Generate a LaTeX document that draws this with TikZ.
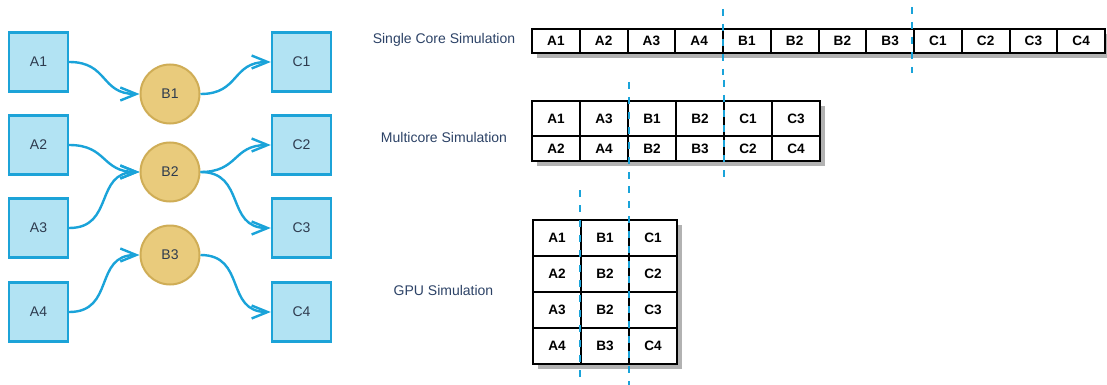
\documentclass[tikz,border=0pt]{standalone}
\usepackage{fontspec}
\setmainfont{Liberation Sans}
\usetikzlibrary{arrows.meta,shadows}

\definecolor{boxfill}{HTML}{B2E3F3}
\definecolor{boxline}{HTML}{1CA3D8}
\definecolor{hubfill}{HTML}{E9CB7C}
\definecolor{hubline}{HTML}{CFAD56}
\definecolor{inktext}{HTML}{2E3B4E}
\definecolor{navy}{HTML}{2C4266}
\definecolor{flow}{HTML}{1AA3D9}

\tikzset{
  task/.style={draw=boxline, fill=boxfill, line width=1.2pt, minimum size=29.5pt, inner sep=0pt, text=inktext},
  hub/.style={circle, draw=hubline, fill=hubfill, line width=1pt, minimum size=29.5pt, inner sep=0pt, text=inktext},
  link/.style={flow, line width=1.2pt, -{Straight Barb[length=8pt,width=6.5pt]}, out=0, in=180, looseness=1.3},
  cell/.style={draw=black, fill=white, line width=1pt, inner sep=0pt, outer sep=0pt,
    font=\fontsize{6.8}{8}\selectfont\bfseries,
    drop shadow={shadow xshift=2.5pt, shadow yshift=-2.5pt, opacity=1, fill=black!30}},
  lbl/.style={text=navy},
  sync/.style={flow, line width=1.2pt, dash pattern=on 3.5pt off 4pt}
}

\begin{document}
\begin{tikzpicture}[x=0.5pt, y=-0.5pt, font=\fontsize{7}{8.4}\selectfont]
    \useasboundingbox (0,0) rectangle (1107,385);

    % DEPENDENCY GRAPH
    \node[task] (a1) at (38.5,62) {A1};
    \node[task] (a2) at (38.5,145) {A2};
    \node[task] (a3) at (38.5,228) {A3};
    \node[task] (a4) at (38.5,312) {A4};

    \node[hub] (b1) at (170,94) {B1};
    \node[hub] (b2) at (170,172) {B2};
    \node[hub] (b3) at (170,255) {B3};

    \node[task] (c1) at (301.5,62) {C1};
    \node[task] (c2) at (301.5,145) {C2};
    \node[task] (c3) at (301.5,228) {C3};
    \node[task] (c4) at (301.5,312) {C4};

    \draw[link] (a1.east) to (b1.west);
    \draw[link] (a2.east) to (b2.west);
    \draw[link] (a3.east) to (b2.west);
    \draw[link] (a4.east) to (b3.west);
    \draw[link] (b1.east) to (c1.west);
    \draw[link] (b2.east) to (c2.west);
    \draw[link] (b2.east) to (c3.west);
    \draw[link] (b3.east) to (c4.west);

    % LABELS
    \node[lbl] (lsingle) at (444,40) {Single Core Simulation};
    \node[lbl] (lmulti) at (444,137) {Multicore Simulation};
    \node[lbl] (lgpu) at (443.5,290) {GPU Simulation};

    % SINGLE CORE ROW
    \foreach \t [count=\i] in {A1,A2,A3,A4,B1,B2,B2,B3,C1,C2,C3,C4}
        \node[cell, minimum width=23.875pt, minimum height=12pt] (sc\i) at ({532+47.75*(\i-0.5)},41) {\t};

    % MULTICORE ROWS
    \foreach \t [count=\i] in {A1,A3,B1,B2,C1,C3}
        \node[cell, minimum width=24pt, minimum height=17.5pt] (mt\i) at ({532+48*(\i-0.5)},118.5) {\t};
    \foreach \t [count=\i] in {A2,A4,B2,B3,C2,C4}
        \node[cell, minimum width=24pt, minimum height=12.5pt] (mb\i) at ({532+48*(\i-0.5)},148.5) {\t};

    % GPU GRID
    \foreach \a/\b/\c [count=\r] in {A1/B1/C1,A2/B2/C2,A3/B2/C3,A4/B3/C4} {
        \node[cell, minimum width=24pt, minimum height=18pt] (ga\r) at (557,{202+36*\r}) {\a};
        \node[cell, minimum width=24pt, minimum height=18pt] (gb\r) at (605,{202+36*\r}) {\b};
        \node[cell, minimum width=24pt, minimum height=18pt] (gc\r) at (653,{202+36*\r}) {\c};
    }

    % SYNC BARRIERS
    \coordinate (s1t) at (723,9);   \coordinate (s1b) at (723,75);
    \coordinate (s2t) at (912,7);   \coordinate (s2b) at (912,73);
    \coordinate (m1t) at (629,82);  \coordinate (m1b) at (629,182);
    \coordinate (m2t) at (724,80);  \coordinate (m2b) at (724,184);
    \coordinate (g1t) at (580,190); \coordinate (g1b) at (580,385);
    \coordinate (g2t) at (629,186); \coordinate (g2b) at (629,385);
    \draw[sync] (s1t) -- (s1b);
    \draw[sync] (s2t) -- (s2b);
    \draw[sync] (m1t) -- (m1b);
    \draw[sync] (m2t) -- (m2b);
    \draw[sync] (g1t) -- (g1b);
    \draw[sync] (g2t) -- (g2b);
\end{tikzpicture}
\end{document}
